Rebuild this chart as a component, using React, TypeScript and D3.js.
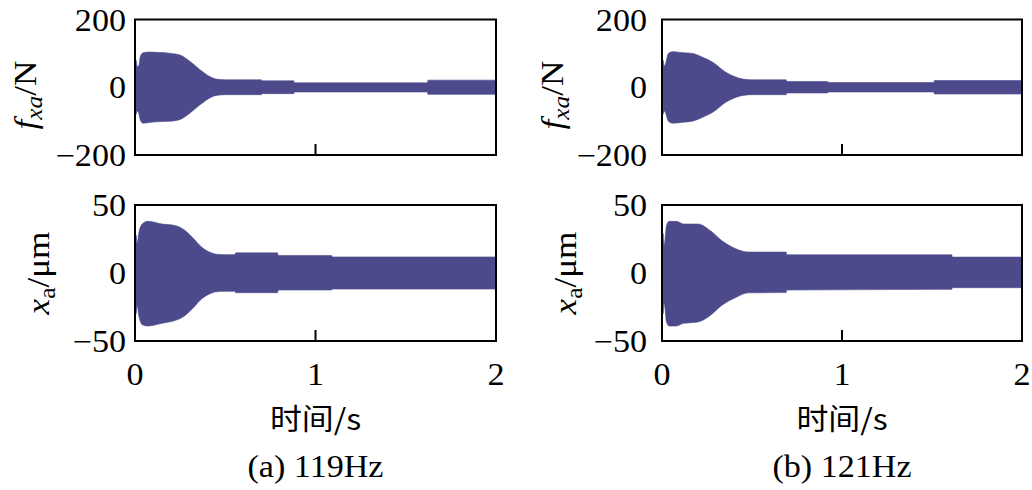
import React from "react";
import * as d3 from "d3";

// ---- data (envelopes of the dense oscillation) ----
const timeTicks = [0, 1, 2];
const forceTicks = [200, 0, -200];
const dispTicks = [50, 0, -50];

const aForceT = [0, 0.006, 0.012, 0.02, 0.03, 0.045, 0.08, 0.12, 0.2, 0.25, 0.3, 0.36, 0.42, 0.45, 0.5, 0.7, 0.703, 0.88, 0.883, 1.62, 1.623, 2.0];
const aForceUp = [80, 80, 62, 62, 92, 102, 104, 103, 100, 95, 78, 52, 30, 24, 22, 22, 19, 19, 13, 13, 21, 21];
const aForceLo = [-82, -80, -70, -75, -98, -106, -104, -102, -100, -95, -78, -52, -30, -24, -22, -22, -19, -19, -14, -14, -21, -21];

const aDispT = [0, 0.006, 0.012, 0.022, 0.04, 0.07, 0.15, 0.22, 0.27, 0.32, 0.37, 0.42, 0.45, 0.5, 0.554, 0.557, 0.79, 0.793, 1.09, 1.093, 2.0];
const aDispUp = [28, 28, 22, 30, 36, 38, 36, 35, 32, 26, 19, 15, 13.8, 13.5, 13.5, 14.8, 14.8, 12.9, 12.9, 11.8, 11.8];
const aDispLo = [-28, -30, -24, -32, -38, -39, -37, -35, -32, -26, -19, -15, -13.8, -13.5, -13.5, -14.5, -14.5, -12.5, -12.5, -11.8, -11.8];

const bForceT = [0, 0.006, 0.012, 0.02, 0.035, 0.06, 0.12, 0.17, 0.22, 0.29, 0.35, 0.41, 0.45, 0.5, 0.69, 0.693, 0.92, 0.923, 1.51, 1.513, 2.0];
const bForceUp = [80, 80, 62, 70, 100, 105, 102, 100, 90, 71, 46, 30, 24, 22, 22, 17, 17, 14, 14, 20, 20];
const bForceLo = [-82, -80, -70, -76, -100, -106, -103, -100, -90, -71, -46, -30, -24, -22, -22, -17, -17, -14, -14, -20, -20];

const bDispT = [0, 0.006, 0.012, 0.025, 0.04, 0.08, 0.12, 0.2, 0.27, 0.33, 0.41, 0.48, 0.69, 0.693, 1.61, 1.613, 2.0];
const bDispUp = [23, 29, 20, 35, 38, 38, 36, 36, 31, 24, 17.8, 15.4, 15.4, 13.4, 13.4, 11.7, 11.7];
const bDispLo = [-25, -30, -22, -36, -39, -39, -37, -36, -31, -24, -18, -14.6, -14.4, -12.5, -12, -10.8, -10.8];

const captions = ["(a) 119Hz", "(b) 121Hz"];
const xTitle = "时间/s";

const FILL = "#4c4a8b";
const SERIF = "'Liberation Serif', 'Times New Roman', serif";
const CJK = "'Noto Sans CJK SC', sans-serif";
const FS = 31;
const SX = 1.1;

type Env = { t: number[]; up: number[]; lo: number[] };

function Plot({ x0, x1, y0, y1, domain, ticks, env, showX, labelRight, ylabel, ylabelX, ylabelY }: any) {
  const x = d3.scaleLinear().domain([0, 2]).range([x0, x1]);
  const y = d3.scaleLinear().domain(domain).range([y1, y0]);
  const e: Env = env;
  const pts = e.t.map((t, i) => ({ t, u: e.up[i], l: e.lo[i] }));
  const area = d3
    .area<any>()
    .x((d) => x(d.t))
    .y0((d) => y(d.l))
    .y1((d) => y(d.u))
    .curve(d3.curveMonotoneX)(pts);
  return (
    <g>
      <path d={area || ""} fill={FILL} stroke={FILL} strokeWidth={0.6} />
      <rect x={x0} y={y0} width={x1 - x0} height={y1 - y0} fill="none" stroke="#000" strokeWidth={2} />
      {timeTicks.map((t) => (
        <line key={"xt" + t} x1={x(t)} x2={x(t)} y1={y1} y2={y1 - 11} stroke="#000" strokeWidth={2} />
      ))}
      {ticks.map((v: number) => (
        <text
          key={"yt" + v}
          transform={`translate(${labelRight},${y(v) + 11}) scale(${SX},1)`}
          textAnchor="end"
          fontFamily={SERIF}
          fontSize={FS}
          fill="#000"
        >
          {v < 0 ? "\u2212" + Math.abs(v) : String(v)}
        </text>
      ))}
      {showX &&
        timeTicks.map((t) => (
          <text
            key={"xl" + t}
            transform={`translate(${x(t)},${385}) scale(${SX},1)`}
            textAnchor="middle"
            fontFamily={SERIF}
            fontSize={FS}
            fill="#000"
          >
            {String(t)}
          </text>
        ))}
      <g transform={`translate(${ylabelX},${ylabelY}) rotate(-90) scale(${SX},1)`}>
        {ylabel}
      </g>
    </g>
  );
}

export default function App() {
  const forceLabel = (
    <text textAnchor="middle" fontFamily={SERIF} fontSize={FS + 1} fill="#000">
      <tspan fontStyle="italic">f</tspan>
      <tspan fontStyle="italic" fontSize={23} dy={6}>xa</tspan>
      <tspan dy={-6}>/N</tspan>
    </text>
  );
  const dispLabel = (
    <text textAnchor="middle" fontFamily={SERIF} fontSize={FS + 1} fill="#000">
      <tspan fontStyle="italic">x</tspan>
      <tspan fontSize={23} dy={6}>a</tspan>
      <tspan dy={-6}>/μm</tspan>
    </text>
  );
  const panels = [
    { x0: 135, x1: 496, lr: 126, f: { t: aForceT, up: aForceUp, lo: aForceLo }, d: { t: aDispT, up: aDispUp, lo: aDispLo } },
    { x0: 662, x1: 1022, lr: 647, f: { t: bForceT, up: bForceUp, lo: bForceLo }, d: { t: bDispT, up: bDispUp, lo: bDispLo } },
  ];
  return (
    <svg width={1032} height={490} style={{ position: "absolute", left: 0, top: 0, background: "#fff" }}>
      {panels.map((p, i) => (
        <g key={i}>
          <Plot x0={p.x0} x1={p.x1} y0={19.5} y1={155} domain={[-200, 200]} ticks={forceTicks} env={p.f}
            showX={false} labelRight={p.lr} ylabel={forceLabel} ylabelX={p.x0 - 99} ylabelY={95} />
          <Plot x0={p.x0} x1={p.x1} y0={205} y1={341} domain={[-50, 50]} ticks={dispTicks} env={p.d}
            showX={true} labelRight={p.lr} ylabel={dispLabel} ylabelX={p.x0 - 86} ylabelY={273} />
          <text transform={`translate(${(p.x0 + p.x1) / 2},${430}) scale(${SX},1)`} textAnchor="middle"
            fontFamily={CJK} fontSize={29} fill="#000">
            {xTitle}
          </text>
          <text transform={`translate(${(p.x0 + p.x1) / 2},${477}) scale(${SX},1)`} textAnchor="middle"
            fontFamily={SERIF} fontSize={FS} fill="#000">
            {captions[i]}
          </text>
        </g>
      ))}
    </svg>
  );
}
